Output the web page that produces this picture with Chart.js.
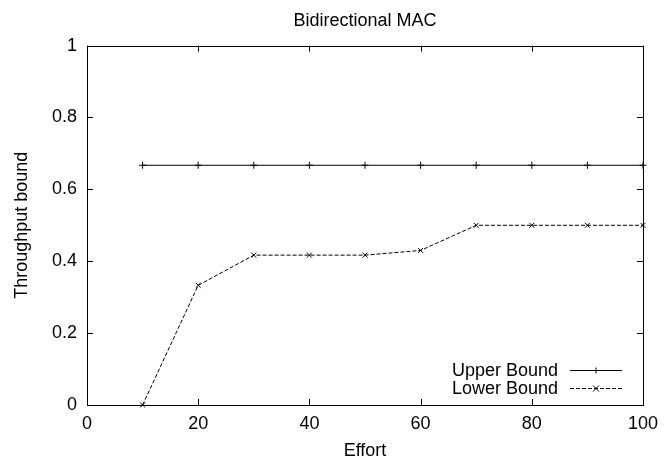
<!DOCTYPE html>
<html>
<head>
<meta charset="utf-8">
<script src="https://cdn.jsdelivr.net/npm/chart.js@4/dist/chart.umd.min.js"></script>
<style>
  html, body { margin: 0; padding: 0; background: #fff; }
  #wrap { width: 672px; height: 464px; }
</style>
</head>
<body>
<div id="wrap"><canvas id="myChart" width="672" height="464"></canvas></div>
<script>
const effort = [10, 20, 30, 40, 50, 60, 70, 80, 90, 100];
const upperBound = [0.667, 0.667, 0.667, 0.667, 0.667, 0.667, 0.667, 0.667, 0.667, 0.667];
const lowerBound = [0, 0.333, 0.417, 0.417, 0.417, 0.43, 0.5, 0.5, 0.5, 0.5];
const seriesNames = ['Upper Bound', 'Lower Bound'];

const FONT = 'Liberation Sans, Arial, Helvetica, sans-serif';

const toXY = (ys) => effort.map((x, i) => ({ x: x, y: ys[i] }));

// frame, mirrored inward ticks, legend
const gnuFrame = {
  id: 'gnuFrame',
  afterDraw(chart) {
    const { ctx, chartArea: { top, bottom, left, right }, scales: { x, y } } = chart;
    const tl = 6;
    ctx.save();
    ctx.strokeStyle = '#000';
    ctx.lineWidth = 1;
    ctx.beginPath();
    x.ticks.forEach(t => {
      const px = Math.round(x.getPixelForValue(t.value)) + 0.5;
      ctx.moveTo(px, bottom); ctx.lineTo(px, bottom - tl);
      ctx.moveTo(px, top); ctx.lineTo(px, top + tl);
    });
    y.ticks.forEach(t => {
      const py = Math.round(y.getPixelForValue(t.value)) + 0.5;
      ctx.moveTo(left, py); ctx.lineTo(left + tl, py);
      ctx.moveTo(right, py); ctx.lineTo(right - tl, py);
    });
    ctx.stroke();
    ctx.strokeRect(Math.round(left) + 0.5, Math.round(top) + 0.5,
      Math.round(right - left), Math.round(bottom - top));

    // legend
    ctx.font = '18px ' + FONT;
    ctx.fillStyle = '#000';
    ctx.textAlign = 'right';
    ctx.textBaseline = 'middle';
    const rows = [370, 388];
    const x0 = 570, x1 = 622;
    chart.data.datasets.forEach((ds, i) => {
      const yy = rows[i] + 0.5;
      ctx.fillText(seriesNames[i], 558, rows[i] + 1);
      ctx.beginPath();
      ctx.setLineDash(ds.borderDash || []);
      ctx.moveTo(x0, yy); ctx.lineTo(x1, yy);
      ctx.stroke();
      ctx.setLineDash([]);
      const cx = 596, r = 3;
      ctx.beginPath();
      if (ds.pointStyle === 'cross') {
        ctx.moveTo(cx - r, yy); ctx.lineTo(cx + r, yy);
        ctx.moveTo(cx, yy - r); ctx.lineTo(cx, yy + r);
      } else {
        ctx.moveTo(cx - r, yy - r); ctx.lineTo(cx + r, yy + r);
        ctx.moveTo(cx - r, yy + r); ctx.lineTo(cx + r, yy - r);
      }
      ctx.stroke();
    });
    ctx.restore();
  }
};

const data = {
  datasets: [{
    label: seriesNames[0],
    data: toXY(upperBound),
    borderColor: '#000',
    backgroundColor: '#000',
    borderWidth: 1,
    pointStyle: 'cross',
    pointRadius: 3.5,
    pointBorderWidth: 1,
    tension: 0
  }, {
    label: seriesNames[1],
    data: toXY(lowerBound),
    borderColor: '#000',
    backgroundColor: '#000',
    borderWidth: 1,
    borderDash: [4, 2],
    pointStyle: 'crossRot',
    pointRadius: 3.5,
    pointBorderWidth: 1,
    tension: 0
  }]
};

const config = {
  type: 'line',
  data,
  options: {
    responsive: false,
    animation: false,
    clip: false,
    layout: { padding: { top: 0, right: 29, left: 0, bottom: 0 } },
    plugins: {
      legend: { display: false },
      tooltip: { enabled: false },
      title: {
        display: true,
        fullSize: false,
        text: 'Bidirectional MAC',
        color: '#000',
        align: 'center',
        font: { family: FONT, size: 18, weight: 'normal' },
        padding: { top: 10, bottom: 14 }
      }
    },
    scales: {
      x: {
        type: 'linear',
        min: 0, max: 100,
        ticks: { stepSize: 20, color: '#000', padding: 8, font: { family: FONT, size: 18 } },
        grid: { display: false, drawTicks: false },
        border: { display: false },
        title: { display: true, text: 'Effort', color: '#000', font: { family: FONT, size: 18 }, padding: 2 },
        afterFit(scale) { scale.height = 59; }
      },
      y: {
        min: 0, max: 1,
        ticks: {
          stepSize: 0.2, color: '#000', padding: 10, font: { family: FONT, size: 18 },
          callback: v => String(+v.toFixed(1))
        },
        grid: { display: false, drawTicks: false },
        border: { display: false },
        title: { display: true, text: 'Throughput bound', color: '#000', font: { family: FONT, size: 18 }, padding: { top: 11, bottom: 0 } },
        afterFit(scale) { scale.width = 87; }
      }
    }
  },
  plugins: [gnuFrame]
};

const myChart = new Chart(document.getElementById('myChart'), config);
</script>
</body>
</html>
